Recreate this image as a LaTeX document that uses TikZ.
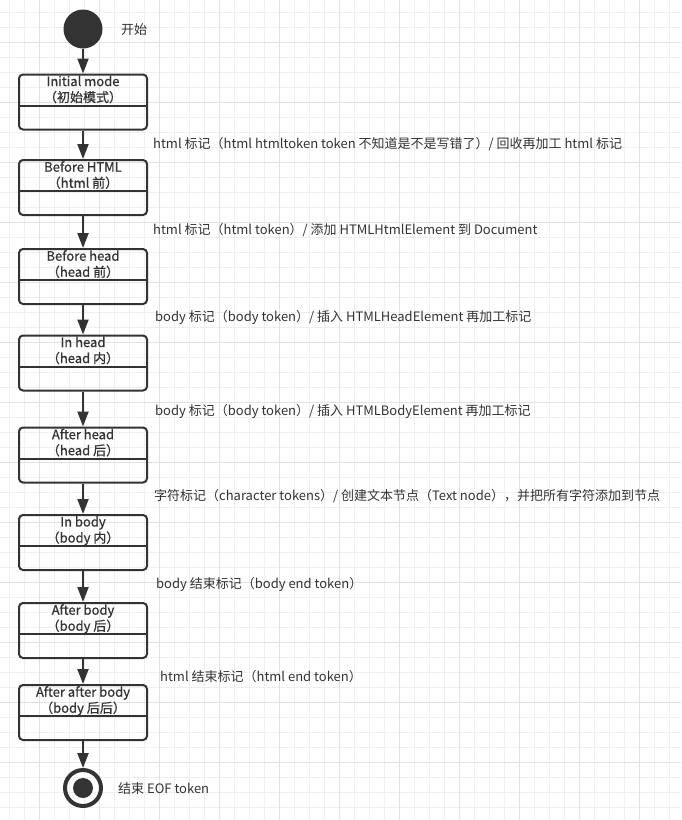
\documentclass[tikz,border=0pt]{standalone}
\usepackage{fontspec}
\setmainfont{Noto Sans CJK SC}
\newfontfamily\titlefont[FakeBold=0.7]{Noto Sans CJK SC}
\usetikzlibrary{arrows.meta}
\definecolor{gridminor}{HTML}{EFEFEF}
\definecolor{gridmajor}{HTML}{E2E2E2}
\definecolor{ink}{HTML}{333333}
\tikzset{
  state/.style={draw=ink, line width=2pt, rounded corners=4pt, minimum width=128pt, minimum height=55pt, inner sep=0pt},
  statename/.style={anchor=north, align=center, font=\titlefont\fontsize{13}{16}\selectfont, text=ink, inner sep=0pt},
  divider/.style={draw=ink, line width=2pt},
  trans/.style={anchor=west, font=\fontsize{13}{15}\selectfont, text=ink, inner sep=0pt},
  flow/.style={draw=ink, line width=2pt, -{Triangle[length=15pt,width=11pt]}},
}
\begin{document}
\begin{tikzpicture}[x=1pt,y=-1pt]
            \useasboundingbox (0,0) rectangle (681,820);
            \fill[white] (0,0) rectangle (681,820);

            % grid
            \foreach \x in {9,24,...,679} \draw[gridminor, line width=1pt] (\x,0) -- (\x,820);
            \foreach \y in {12,27,...,817} \draw[gridminor, line width=1pt] (0,\y) -- (681,\y);
            \foreach \x in {39,99,...,639} \draw[gridmajor, line width=1pt] (\x,0) -- (\x,820);
            \foreach \y in {42,102,...,762} \draw[gridmajor, line width=1pt] (0,\y) -- (681,\y);

            % states
            \node[circle, fill=ink, minimum size=39pt, inner sep=0pt] (start) at (83,29) {};
            \node[state] (init) at (83,102) {};
            \node[state] (bhtml) at (83,187.5) {};
            \node[state] (bhead) at (83,276.5) {};
            \node[state] (inhead) at (83,363) {};
            \node[state] (ahead) at (83,455) {};
            \node[state] (inbody) at (83,542.5) {};
            \node[state] (abody) at (83,630.5) {};
            \node[state] (aabody) at (83,712.5) {};
            \node[circle, draw=ink, line width=4pt, minimum size=36pt, inner sep=0pt] (stop) at (83,788) {};
            \fill[ink] (stop.center) circle (10);

            \node[statename] at ([yshift=-2pt]init.north) {Initial mode\\（初始模式）};
            \node[statename] at ([yshift=-2pt]bhtml.north) {Before HTML\\（html 前）};
            \node[statename] at ([yshift=-2pt]bhead.north) {Before head\\（head 前）};
            \node[statename] at ([yshift=-2pt]inhead.north) {In head\\（head 内）};
            \node[statename] at ([yshift=-2pt]ahead.north) {After head\\（head 后）};
            \node[statename] at ([yshift=-2pt]inbody.north) {In body\\（body 内）};
            \node[statename] at ([yshift=-2pt]abody.north) {After body\\（body 后）};
            \node[statename] at ([yshift=-2pt]aabody.north) {After after body\\（body 后后）};

            \draw[divider] ([yshift=-32pt]init.north west) -- ([yshift=-32pt]init.north east);
            \draw[divider] ([yshift=-32pt]bhtml.north west) -- ([yshift=-32pt]bhtml.north east);
            \draw[divider] ([yshift=-32pt]bhead.north west) -- ([yshift=-32pt]bhead.north east);
            \draw[divider] ([yshift=-32pt]inhead.north west) -- ([yshift=-32pt]inhead.north east);
            \draw[divider] ([yshift=-32pt]ahead.north west) -- ([yshift=-32pt]ahead.north east);
            \draw[divider] ([yshift=-32pt]inbody.north west) -- ([yshift=-32pt]inbody.north east);
            \draw[divider] ([yshift=-32pt]abody.north west) -- ([yshift=-32pt]abody.north east);
            \draw[divider] ([yshift=-32pt]aabody.north west) -- ([yshift=-32pt]aabody.north east);

            % transitions
            \draw[flow] (start) -- (init);
            \draw[flow] (init) -- (bhtml);
            \draw[flow] (bhtml) -- (bhead);
            \draw[flow] (bhead) -- (inhead);
            \draw[flow] (inhead) -- (ahead);
            \draw[flow] (ahead) -- (inbody);
            \draw[flow] (inbody) -- (abody);
            \draw[flow] (abody) -- (aabody);
            \draw[flow] (aabody) -- (stop);

            \node[trans] (startlbl) at (121,30) {开始};
            \node[trans] (htmltok) at (153,144) {html 标记（html htmltoken token 不知道是不是写错了）/ 回收再加工 html 标记};
            \node[trans] (htmladd) at (153,230) {html 标记（html token）/ 添加 HTMLHtmlElement 到 Document};
            \node[trans] (headins) at (155,317) {body 标记（body token）/ 插入 HTMLHeadElement 再加工标记};
            \node[trans] (bodyins) at (155,411) {body 标记（body token）/ 插入 HTMLBodyElement 再加工标记};
            \node[trans] (chartok) at (154,496) {字符标记（character tokens）/ 创建文本节点（Text node），并把所有字符添加到节点};
            \node[trans] (bodyend) at (156,584) {body 结束标记（body end token）};
            \node[trans] (htmlend) at (160,677) {html 结束标记（html end token）};
            \node[trans] (stoplbl) at (118,789) {结束 EOF token};

        \end{tikzpicture}
\end{document}
